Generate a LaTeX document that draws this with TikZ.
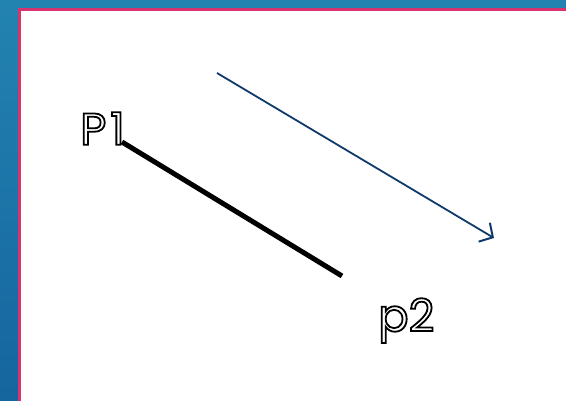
\documentclass[tikz,border=0pt]{standalone}
\usepackage{fontspec}
\setmainfont{Poppins}
\usetikzlibrary{arrows.meta,positioning}
\definecolor{fondoarriba}{HTML}{2383B0}
\definecolor{fondoabajo}{HTML}{15659F}
\definecolor{borde}{HTML}{D6336F}
\definecolor{flecha}{HTML}{0E3A6C}
\tikzset{
  etiqueta/.style={inner sep=0pt,font=\fontsize{45}{45}\selectfont},
  segmento/.style={draw=black,line width=5pt},
  vector/.style={draw=flecha,line width=1.8pt,-{Straight Barb[length=10pt,width=22pt,line width=2pt]}},
}
\newcommand{\hueco}[1]{\special{pdf:literal direct 1 Tr 1.8 w}#1\special{pdf:literal direct 0 Tr}}
\begin{document}
\begin{tikzpicture}[x=1pt,y=-1pt]
\useasboundingbox (0,0) rectangle (566,401);
\shade[top color=fondoarriba,bottom color=fondoabajo] (0,0) rectangle (566,401);
\fill[white,draw=borde,line width=3.5pt] (19.5,9.5) rectangle (620,460);
\coordinate (p1) at (122,142);
\coordinate (p2) at (342,276);
\coordinate (a1) at (217,73);
\coordinate (a2) at (494,238);
\draw[segmento] (p1) -- (p2);
\draw[vector] (a1) -- (a2);
\node[etiqueta,anchor=south east] (etq1) at ([shift={(3,3)}]p1) {\hueco{P\hspace{4pt}1}};
\node[etiqueta,anchor=north west] (etq2) at ([shift={(36,22)}]p2) {\hueco{p2}};
\end{tikzpicture}
\end{document}
